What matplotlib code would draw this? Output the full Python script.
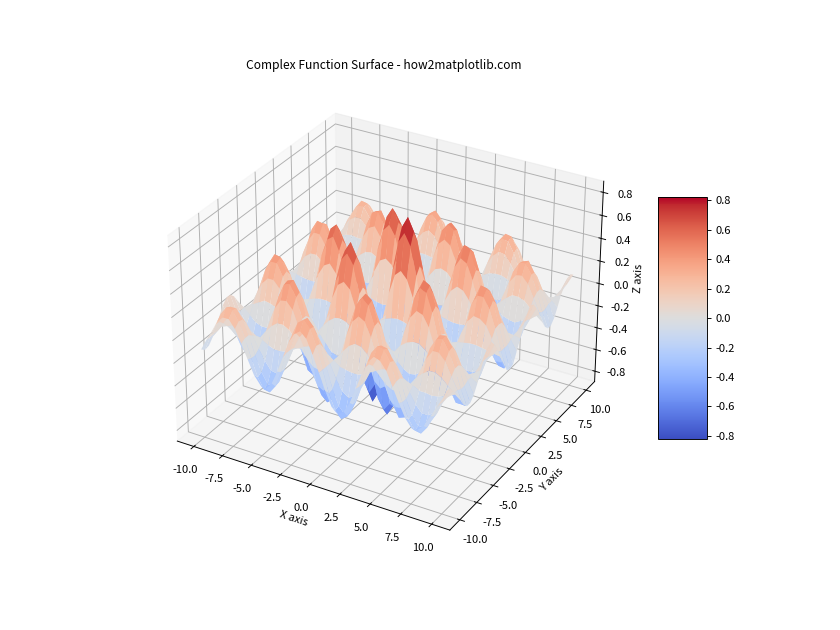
import numpy as np
import matplotlib
matplotlib.use("Agg")
import matplotlib.pyplot as plt

plt.rcParams["font.family"] = ["Noto Sans CJK SC", "DejaVu Sans"]
plt.rcParams["font.size"] = 9.5
plt.rcParams["axes.unicode_minus"] = False

# surface heights, x = 0..10 and y = 0..10 in steps of 0.5
# the picture repeats with y -> -y and flips sign with x -> -x, so one quadrant is typed
grid_x = np.arange(0, 10.5, 0.5)
quadrant = [
    [0, .46, .76, .86, .75, .47, .11, -.25, -.51, -.63, -.58, -.41, -.15, .12, .32, .45, .44, .35, .16, -.03, -.20],
    [0, .39, .66, .75, .65, .41, .09, -.22, -.44, -.55, -.51, -.36, -.14, .09, .29, .39, .39, .30, .15, -.03, -.18],
    [0, .23, .40, .45, .39, .25, .05, -.13, -.27, -.34, -.31, -.22, -.08, .06, .18, .24, .23, .19, .09, -.01, -.10],
    [0, .03, .05, .06, .05, .03, .01, -.02, -.03, -.04, -.04, -.03, -.01, .01, .02, .03, .03, .02, .01, 0, -.01],
    [0, -.16, -.28, -.32, -.29, -.18, -.04, .10, .20, .25, .23, .16, .06, -.05, -.13, -.18, -.18, -.14, -.06, .01, .08],
    [0, -.30, -.51, -.59, -.53, -.34, -.08, .18, .38, .47, .44, .31, .12, -.08, -.25, -.34, -.34, -.26, -.13, .03, .15],
    [0, -.35, -.60, -.71, -.62, -.40, -.09, .22, .45, .56, .53, .37, .14, -.11, -.30, -.41, -.42, -.33, -.15, .03, .20],
    [0, -.32, -.55, -.64, -.57, -.37, -.08, .20, .41, .52, .49, .34, .13, -.10, -.28, -.38, -.38, -.30, -.15, .03, .18],
    [0, -.21, -.37, -.42, -.38, -.25, -.06, .14, .28, .35, .33, .24, .08, -.06, -.20, -.26, -.26, -.20, -.10, .01, .12],
    [0, -.07, -.11, -.13, -.12, -.08, -.02, .05, .09, .11, .11, .07, .02, -.02, -.06, -.08, -.09, -.06, -.03, 0, .04],
    [0, .08, .15, .17, .15, .09, .02, -.06, -.11, -.14, -.13, -.09, -.03, .02, .07, .11, .11, .09, .04, -.01, -.05],
    [0, .20, .35, .40, .36, .23, .06, -.13, -.27, -.35, -.32, -.23, -.09, .06, .19, .26, .27, .21, .10, -.01, -.12],
    [0, .26, .44, .51, .47, .30, .07, -.17, -.36, -.45, -.43, -.31, -.11, .09, .25, .34, .35, .27, .13, -.03, -.16],
    [0, .25, .42, .50, .45, .29, .07, -.17, -.34, -.44, -.42, -.30, -.11, .09, .24, .33, .35, .26, .13, -.03, -.16],
    [0, .18, .31, .37, .34, .22, .05, -.12, -.26, -.32, -.31, -.23, -.09, .06, .18, .26, .26, .20, .09, -.01, -.12],
    [0, .07, .13, .16, .15, .10, .02, -.05, -.11, -.14, -.14, -.10, -.04, .03, .08, .12, .12, .09, .04, -.01, -.05],
    [0, -.04, -.05, -.06, -.06, -.04, -.01, .02, .05, .06, .06, .04, .01, -.01, -.04, -.04, -.05, -.04, -.02, 0, .03],
    [0, -.12, -.21, -.25, -.22, -.15, -.04, .09, .18, .23, .22, .15, .06, -.04, -.13, -.19, -.19, -.15, -.07, .01, .08],
    [0, -.18, -.31, -.37, -.33, -.21, -.05, .13, .26, .32, .31, .22, .09, -.07, -.19, -.27, -.27, -.20, -.11, .01, .13],
    [0, -.19, -.32, -.38, -.34, -.22, -.05, .13, .27, .34, .33, .24, .09, -.07, -.20, -.28, -.29, -.22, -.11, .01, .14],
    [0, -.14, -.26, -.31, -.27, -.18, -.04, .10, .22, .28, .26, .19, .07, -.05, -.16, -.23, -.23, -.18, -.08, .01, .11],
]
title_text = "Complex Function Surface - how2matplotlib.com"
x_label = "X axis"
y_label = "Y axis"
z_label = "Z axis"
color_range = [-0.824, 0.824]

q = np.array(quadrant)
right = np.vstack([q[:0:-1], q])
Z = np.hstack([-right[:, :0:-1], right])
axis_vals = np.concatenate([-grid_x[:0:-1], grid_x])
X, Y = np.meshgrid(axis_vals, axis_vals)

fig = plt.figure(figsize=(10, 7.5), dpi=84)
ax = fig.add_subplot(111, projection="3d")

surf = ax.plot_surface(X, Y, Z, cmap="coolwarm", rstride=1, cstride=1, linewidth=0,
                       antialiased=True, vmin=color_range[0], vmax=color_range[1])

ax.set_title(title_text, fontsize=10.3)
ax.set_xlabel(x_label, labelpad=0)
ax.set_ylabel(y_label, labelpad=0)
ax.set_zlabel(z_label, labelpad=0)

fig.colorbar(surf, shrink=0.5, aspect=5)

plt.savefig("out.png")
